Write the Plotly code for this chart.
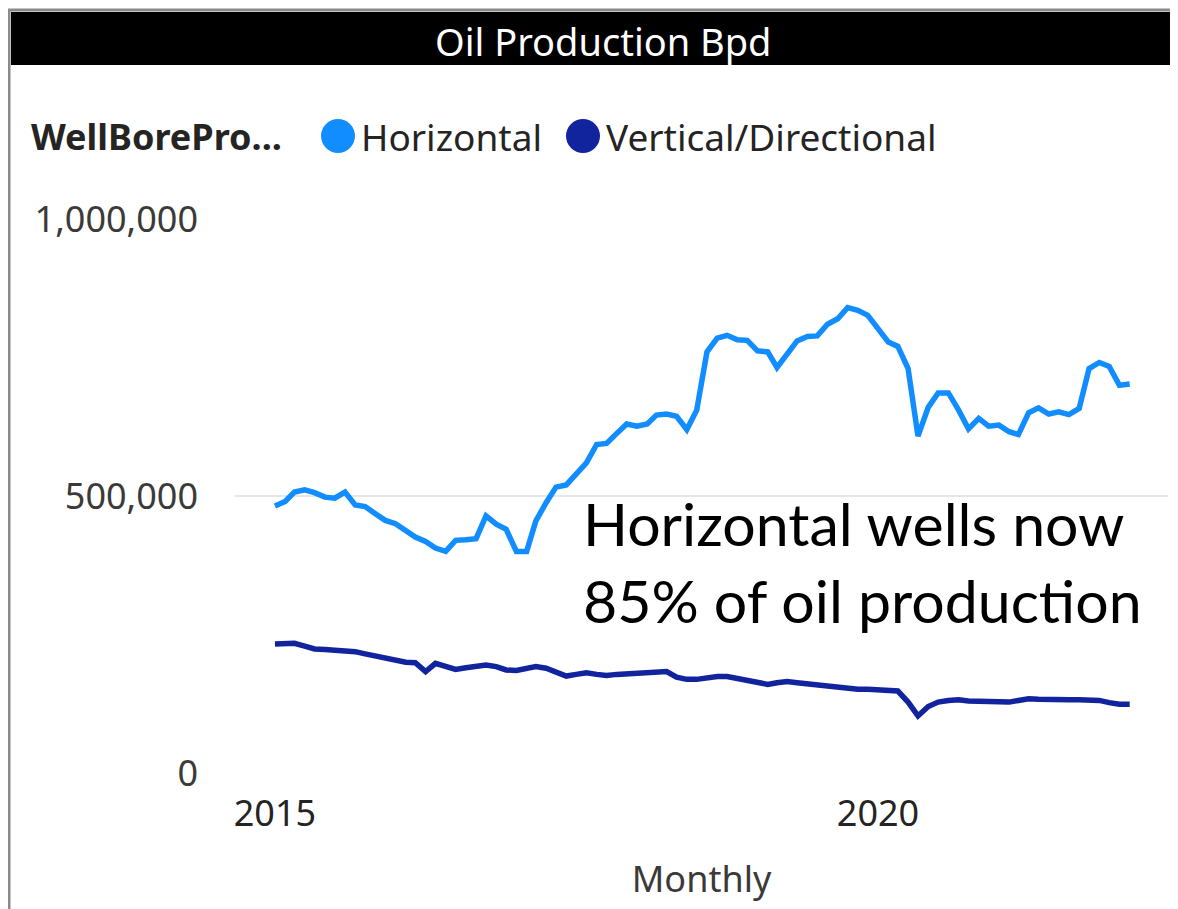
import plotly.graph_objects as go
import pandas as pd

# ---- data (monthly, Jan 2015 .. Feb 2022), barrels per day ----
horizontal = [
    482000, 490000, 507000, 511000, 506000, 498000, 496000, 507000, 484000, 481000,
    468000, 456000, 450000, 438000, 426000, 418000, 406000, 400000, 420000, 421000,
    423000, 464000, 449000, 440000, 400000, 400000, 455000, 488000, 516000, 520000,
    538000, 560000, 593000, 595000, 613000, 630000, 626000, 630000, 646000, 648000,
    644000, 620000, 655000, 760000, 785000, 790000, 782000, 781000, 762000, 760000,
    732000, 756000, 780000, 788000, 789000, 810000, 820000, 840000, 835000, 826000,
    801000, 778000, 770000, 730000, 608000, 660000, 686000, 686000, 655000, 621000,
    640000, 626000, 628000, 616000, 611000, 650000, 659000, 648000, 652000, 647000,
    658000, 730000, 741000, 734000, 700000, 702000,
]
vertical = [
    233000, 234000, 234000, 229000, 224000, 223000, 222000, 221000, 219000, 215000,
    211000, 207000, 202000, 200000, 199000, 183000, 198000, 192000, 187000, 190000,
    193000, 195000, 192000, 186000, 185000, 190000, 192000, 189000, 182000, 175000,
    178000, 181000, 178000, 176000, 178000, 179000, 179000, 179000, 181000, 183000,
    173000, 169000, 169000, 172000, 174000, 174000, 170000, 167000, 162000, 160000,
    163000, 165000, 163000, 161000, 159000, 156000, 155000, 153000, 151000, 151000,
    150000, 150000, 148000, 128000, 103000, 120000, 128000, 131000, 132000, 130000,
    129000, 129000, 127000, 128000, 131000, 134000, 133000, 132000, 131000, 132000,
    132000, 131000, 131000, 127000, 124000, 124000,
]
months = pd.date_range("2015-01-01", periods=len(horizontal), freq="MS")

series_names = ["Horizontal", "Vertical/Directional"]
series_colors = ["#118DFF", "#12239E"]
x_tick_vals = ["2015-01-01", "2020-01-01"]
x_tick_text = ["2015", "2020"]
y_tick_vals = [0, 500000, 1000000]
y_tick_text = ["0", "500,000", "1,000,000"]

# ---- layout geometry (pixels, in page coordinates; page body has an 8px margin) ----
OFF = 8
PAGE_W, PAGE_H = 1178, 909
PLOT_L, PLOT_R, PLOT_T, PLOT_B = 235, 1168, 219, 773   # plot area edges on the page
W, H = PAGE_W - OFF, PAGE_H - OFF
L, R, T, B = PLOT_L - OFF, PAGE_W - PLOT_R, PLOT_T - OFF, PAGE_H - PLOT_B
PW, PH = PLOT_R - PLOT_L, PLOT_B - PLOT_T


def px(x):
    return (x - PLOT_L) / PW


def py(y):
    return (PLOT_B - y) / PH


FONT = "Noto Sans"
TXT = "#252423"

fig = go.Figure()
fig.add_trace(go.Scatter(x=months, y=horizontal, mode="lines", name=series_names[0],
                         line=dict(color=series_colors[0], width=5.5), showlegend=False))
fig.add_trace(go.Scatter(x=months, y=vertical, mode="lines", name=series_names[1],
                         line=dict(color=series_colors[1], width=5.5), showlegend=False))

shapes = []
# gray outer frame (left and top)
shapes.append(dict(type="line", xref="paper", yref="paper", x0=px(9), x1=px(9), y0=py(9), y1=py(912),
                   line=dict(color="#8a8a8a", width=3)))
shapes.append(dict(type="line", xref="paper", yref="paper", x0=px(8), x1=px(1180), y0=py(10), y1=py(10),
                   line=dict(color="#8a8a8a", width=3)))
# black title bar
shapes.append(dict(type="rect", xref="paper", yref="paper", x0=px(11), x1=px(1182), y0=py(65), y1=py(12),
                   fillcolor="black", line=dict(width=0)))
# legend circles
for cx, col in [(338, series_colors[0]), (583, series_colors[1])]:
    shapes.append(dict(type="circle", xref="paper", yref="paper", xsizemode="pixel", ysizemode="pixel",
                       xanchor=px(cx), yanchor=py(136), x0=-17, x1=17, y0=-17, y1=17,
                       fillcolor=col, line=dict(width=0)))

annotations = [
    dict(text="Oil Production Bpd", x=px(603), y=py(41), xref="paper", yref="paper",
         xanchor="center", yanchor="middle", showarrow=False,
         font=dict(family=FONT, size=38, color="white")),
    dict(text="<b>WellBorePro...</b>", x=px(29), y=py(136), xref="paper", yref="paper",
         xanchor="left", yanchor="middle", showarrow=False,
         font=dict(family=FONT, size=36, color=TXT)),
    dict(text=series_names[0], x=px(359), y=py(136), xref="paper", yref="paper",
         xanchor="left", yanchor="middle", showarrow=False,
         font=dict(family=FONT, size=37, color=TXT)),
    dict(text=series_names[1], x=px(604), y=py(136), xref="paper", yref="paper",
         xanchor="left", yanchor="middle", showarrow=False,
         font=dict(family=FONT, size=37, color=TXT)),
    dict(text="Horizontal wells now<br>85% of oil production", x=px(581), y=py(562),
         xref="paper", yref="paper", xanchor="left", yanchor="middle", align="left",
         showarrow=False, font=dict(family="Lato", size=59, color="black")),
]

fig.update_layout(
    width=W, height=H,
    margin=dict(l=L, r=R, t=T, b=B, pad=0),
    paper_bgcolor="white", plot_bgcolor="white",
    showlegend=False,
    shapes=shapes,
    annotations=annotations,
    font=dict(family=FONT, color=TXT),
    xaxis=dict(
        type="date",
        range=["2014-09-02", "2022-05-28"],
        tickmode="array", tickvals=x_tick_vals, ticktext=x_tick_text,
        tickfont=dict(family=FONT, size=36, color=TXT),
        showgrid=False, zeroline=False, showline=False, ticks="",
        ticklabelstandoff=16,
        title=dict(text="Monthly", font=dict(family=FONT, size=36, color="#3b3a39"), standoff=30),
    ),
    yaxis=dict(
        range=[0, 1000000],
        tickmode="array", tickvals=y_tick_vals, ticktext=y_tick_text,
        tickfont=dict(family=FONT, size=36, color="#3b3a39"),
        showgrid=True, gridcolor="#e6e6e6", gridwidth=2,
        zeroline=False, showline=False, ticks="",
        ticklabelstandoff=36,
    ),
)

fig.write_html("out.html", config={"displayModeBar": False})
